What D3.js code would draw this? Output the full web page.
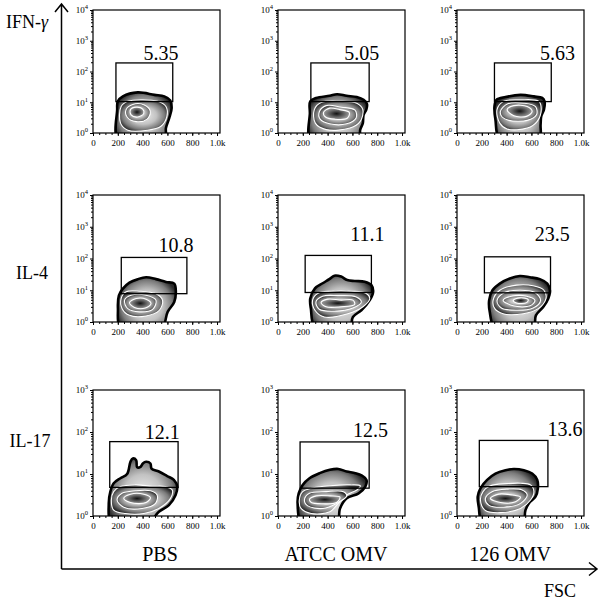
<!DOCTYPE html>
<html>
<head>
<meta charset="utf-8">
<script src="https://cdn.jsdelivr.net/npm/d3@7"></script>
<style>
  body { margin: 0; background: #fff; }
  text { font-family: "Liberation Serif", "Times New Roman", serif; fill: #000; }
</style>
</head>
<body>
<svg id="chart" width="600" height="603"></svg>
<script>
// ---- data ----
var rowLabels = ["IFN-", "IL-4", "IL-17"];
var colLabels = ["PBS", "ATCC OMV", "126 OMV"];
var xTickValues = [0, 200, 400, 600, 800, 1000];
var xTickLabels = ["0", "200", "400", "600", "800", "1.0k"];
var rowDecades = [4, 4, 3];   // y axis goes 10^0 .. 10^n

// % of cells inside the gate, panel order row by row
var gatePercent = [5.35, 5.05, 5.63, 10.8, 11.1, 23.5, 12.1, 12.5, 13.6];
// gate corners: FSC range and intensity range
var gateFsc = [[185, 643], [265, 735], [302, 760], [228, 757], [219, 753], [221, 754], [135, 686], [178, 735], [180, 733]];
var gateIntensity = [[10.5, 190], [10.5, 190], [10.5, 190], [7.8, 108], [8.5, 125], [8.3, 113], [4.8, 59], [4.6, 58], [5.0, 63]];

// contour levels: [FSC, log10 intensity], outer level first
var ifnPbs = [
  [[206,-0.25],[195,0.76],[200,1.03],[241,1.19],[361,1.32],[495,1.24],[575,1.19],[623,1.06],[634,0.81],[615,0.49],[588,0.16],[580,-0.25]],
  [[227,0.86],[281,1.03],[388,1.08],[521,1.03],[588,0.86],[596,0.54],[548,0.22],[441,0.09],[281,0.09],[222,0.32]],
  [[267,0.76],[321,0.93],[414,0.91],[462,0.70],[436,0.45],[348,0.37],[275,0.52]],
  [[302,0.76],[348,0.84],[401,0.78],[409,0.63],[361,0.52],[307,0.59]]
];
var ifnAtcc = [
  [[266,-0.25],[257,0.65],[260,1.03],[307,1.14],[416,1.21],[476,1.26],[553,1.21],[635,1.17],[690,1.08],[717,0.95],[712,0.76],[690,0.59],[684,0.32],[663,0.11],[649,-0.25]],
  [[293,0.76],[348,0.99],[498,1.03],[635,0.97],[684,0.76],[663,0.38],[580,0.16],[389,0.11],[301,0.32]],
  [[334,0.70],[389,0.89],[512,0.84],[621,0.74],[630,0.49],[553,0.30],[416,0.30],[340,0.45]],
  [[367,0.67],[416,0.81],[498,0.76],[575,0.67],[558,0.48],[457,0.45],[383,0.52]]
];
var ifn126 = [
  [[350,-0.25],[310,0.43],[302,0.86],[318,1.08],[391,1.17],[512,1.24],[620,1.19],[687,1.14],[706,1.03],[701,0.76],[679,0.54],[674,0.27],[660,-0.25]],
  [[323,0.76],[377,1.03],[512,1.08],[660,1.03],[679,0.76],[647,0.38],[566,0.16],[404,0.13],[345,0.32]],
  [[350,0.70],[410,0.95],[539,0.97],[633,0.86],[641,0.59],[566,0.41],[418,0.41],[364,0.52]],
  [[404,0.76],[458,0.89],[566,0.86],[606,0.70],[560,0.54],[458,0.56]]
];
var il4Pbs = [
  [[227,-0.25],[201,0.42],[209,0.84],[241,1.05],[294,1.24],[361,1.35],[428,1.41],[508,1.35],[588,1.26],[655,1.21],[668,0.95],[655,0.63],[602,0.32],[548,-0.25]],
  [[227,0.74],[267,0.95],[374,0.97],[508,0.89],[561,0.68],[535,0.37],[428,0.19],[294,0.21],[235,0.42]],
  [[254,0.68],[307,0.84],[428,0.84],[508,0.68],[481,0.40],[374,0.32],[281,0.42]],
  [[294,0.61],[348,0.74],[428,0.72],[468,0.58],[422,0.44],[334,0.46]]
];
var il4Atcc = [
  [[306,-0.25],[265,0.42],[260,0.74],[298,1.06],[360,1.22],[414,1.35],[455,1.46],[509,1.43],[558,1.32],[618,1.29],[699,1.27],[753,1.16],[767,0.95],[740,0.69],[672,0.37],[604,0.16],[577,-0.25]],
  [[279,0.69],[320,0.90],[428,0.97],[591,0.97],[712,0.90],[740,0.74],[685,0.48],[563,0.26],[374,0.16],[298,0.37]],
  [[306,0.63],[360,0.81],[482,0.83],[631,0.79],[672,0.63],[604,0.44],[455,0.34],[333,0.40]],
  [[347,0.61],[401,0.72],[509,0.69],[604,0.69],[618,0.55],[509,0.48],[387,0.48]]
];
var il4126 = [
  [[313,-0.25],[264,0.32],[259,0.68],[286,1.0],[345,1.21],[426,1.37],[507,1.45],[587,1.41],[668,1.35],[728,1.21],[749,1.0],[736,0.74],[695,0.47],[636,0.21],[614,-0.25]],
  [[291,0.68],[345,1.0],[480,1.16],[614,1.14],[701,1.0],[717,0.74],[655,0.42],[534,0.26],[372,0.26],[305,0.42]],
  [[323,0.68],[385,0.93],[507,1.0],[628,0.93],[674,0.68],[614,0.44],[480,0.37],[358,0.44]],
  [[372,0.68],[439,0.81],[561,0.81],[628,0.68],[588,0.51],[453,0.51]],
  [[453,0.68],[507,0.76],[574,0.71],[561,0.61],[480,0.60]]
];
var il17Pbs = [
  [[154,-0.25],[127,0.30],[140,0.58],[167,0.78],[221,0.90],[275,1.0],[302,1.29],[321,1.37],[348,1.33],[356,1.16],[383,1.17],[402,1.25],[428,1.29],[463,1.25],[472,1.13],[531,1.06],[598,0.95],[652,0.86],[679,0.70],[666,0.50],[612,0.26],[531,0.10],[423,-0.25]],
  [[148,0.38],[167,0.58],[221,0.70],[342,0.74],[477,0.71],[585,0.70],[639,0.62],[625,0.42],[531,0.18],[410,0.06],[261,0.06],[167,0.14]],
  [[194,0.38],[234,0.54],[342,0.60],[463,0.60],[517,0.50],[504,0.30],[396,0.18],[248,0.21]],
  [[248,0.42],[302,0.52],[410,0.52],[463,0.44],[428,0.32],[302,0.32]]
];
var il17Atcc = [
  [[199,-0.25],[158,0.30],[167,0.54],[199,0.74],[254,0.90],[336,1.02],[418,1.10],[486,1.12],[554,1.06],[623,1.02],[677,0.96],[713,0.86],[704,0.70],[650,0.54],[554,0.42],[500,0.18],[472,-0.25]],
  [[172,0.38],[199,0.58],[268,0.66],[418,0.72],[582,0.74],[664,0.72],[636,0.62],[554,0.50],[486,0.30],[418,0.10],[268,0.06],[186,0.18]],
  [[213,0.38],[254,0.54],[390,0.58],[527,0.58],[554,0.48],[472,0.30],[363,0.18],[240,0.24]],
  [[254,0.40],[309,0.48],[418,0.48],[500,0.45],[472,0.32],[363,0.29],[268,0.32]]
];
var il17126 = [
  [[216,-0.25],[175,0.22],[167,0.46],[189,0.66],[243,0.86],[310,1.01],[391,1.09],[458,1.12],[539,1.09],[606,1.01],[647,0.86],[652,0.66],[633,0.46],[579,0.30],[552,0.14],[525,-0.25]],
  [[189,0.38],[210,0.58],[269,0.72],[404,0.77],[512,0.78],[593,0.74],[620,0.58],[593,0.38],[512,0.18],[350,0.08],[229,0.13]],
  [[229,0.42],[283,0.58],[404,0.64],[525,0.62],[566,0.50],[512,0.30],[377,0.21],[256,0.26]],
  [[269,0.42],[337,0.52],[445,0.50],[512,0.45],[472,0.34],[350,0.32]]
];
var panelContours = [ifnPbs, ifnAtcc, ifn126, il4Pbs, il4Atcc, il4126, il17Pbs, il17Atcc, il17126];

// ---- layout ----
var colLeft = [93, 278, 457], plotW = 127;
var rowTop = [10, 195, 390], rowBottom = [133, 322, 516];
// where the % text sits, in data units of each panel (FSC, intensity)
var labelAt = [[548, 240], [675, 240], [811, 240], [669, 165], [721, 355], [768, 355], [558, 67], [745, 77], [870, 80]];

var svg = d3.select("#chart");
var defs = svg.append("defs");

var zebra = defs.append("radialGradient").attr("id", "zebra").attr("r", "55%");
zebra.append("stop").attr("offset", "0%").attr("stop-color", "#f0f0f0");
zebra.append("stop").attr("offset", "50%").attr("stop-color", "#c2c2c2");
zebra.append("stop").attr("offset", "80%").attr("stop-color", "#7c7c7c");
zebra.append("stop").attr("offset", "100%").attr("stop-color", "#2a2a2a");

var core = defs.append("radialGradient").attr("id", "core").attr("r", "55%");
core.append("stop").attr("offset", "0%").attr("stop-color", "#111");
core.append("stop").attr("offset", "50%").attr("stop-color", "#606060");
core.append("stop").attr("offset", "100%").attr("stop-color", "#a8a8a8");

panelContours.forEach(function(levels, i) {
  var r = Math.floor(i / 3), c = i % 3;
  var x = d3.scaleLinear().domain([0, 1024]).range([colLeft[c], colLeft[c] + plotW]);
  var y = d3.scaleLog().domain([1, Math.pow(10, rowDecades[r])]).range([rowBottom[r], rowTop[r]]);
  var g = svg.append("g");

  defs.append("clipPath").attr("id", "clip" + i)
    .append("rect")
    .attr("x", x(0)).attr("y", y.range()[1])
    .attr("width", plotW).attr("height", rowBottom[r] - rowTop[r]);

  var contour = d3.line()
    .x(function(d) { return x(d[0]); })
    .y(function(d) { return y(Math.pow(10, d[1])); })
    .curve(d3.curveCatmullRomClosed.alpha(0.5));

  var blob = g.append("g").attr("clip-path", "url(#clip" + i + ")");
  blob.selectAll("path")
    .data(levels)
    .enter().append("path")
    .attr("d", contour)
    .attr("fill", function(d, k) { return k === levels.length - 1 ? "url(#core)" : "url(#zebra)"; })
    .attr("stroke", function(d, k) { return k === 0 ? "#000" : "#fff"; })
    .attr("stroke-width", function(d, k) { return k === 0 ? 2.6 : 1.1; })
    .attr("stroke-linejoin", "round");

  // gate
  g.append("rect")
    .attr("x", x(gateFsc[i][0]))
    .attr("y", y(gateIntensity[i][1]))
    .attr("width", x(gateFsc[i][1]) - x(gateFsc[i][0]))
    .attr("height", y(gateIntensity[i][0]) - y(gateIntensity[i][1]))
    .attr("fill", "none").attr("stroke", "#000").attr("stroke-width", 1.3);

  g.append("text")
    .attr("x", x(labelAt[i][0]))
    .attr("y", y(labelAt[i][1]))
    .attr("text-anchor", "middle")
    .style("font-size", "20px")
    .text(gatePercent[i]);

  // axes
  var xMinor = g.append("g")
    .attr("transform", "translate(0," + rowBottom[r] + ")")
    .call(d3.axisBottom(x).tickValues(d3.range(0, 1024, 50)).tickSize(2).tickFormat(""));
  xMinor.select(".domain").remove();

  var xAxis = g.append("g")
    .attr("transform", "translate(0," + rowBottom[r] + ")")
    .call(d3.axisBottom(x).tickValues(xTickValues).tickSize(3).tickPadding(4)
      .tickFormat(function(d, k) { return xTickLabels[k]; }));
  xAxis.select(".domain").remove();
  xAxis.selectAll("text").style("font-size", "9px").style("font-family", "'Liberation Serif', serif");

  var minorY = [];
  for (var e = 0; e < rowDecades[r]; e++) {
    for (var m = 2; m < 10; m++) minorY.push(m * Math.pow(10, e));
  }
  var yMinor = g.append("g")
    .attr("transform", "translate(" + x(0) + ",0)")
    .call(d3.axisLeft(y).tickValues(minorY).tickSize(2).tickFormat(""));
  yMinor.select(".domain").remove();

  var decades = d3.range(rowDecades[r] + 1).map(function(e) { return Math.pow(10, e); });
  var yAxis = g.append("g")
    .attr("transform", "translate(" + x(0) + ",0)")
    .call(d3.axisLeft(y).tickValues(decades).tickSize(3).tickPadding(2).tickFormat(""));
  yAxis.select(".domain").remove();
  yAxis.selectAll(".tick text").each(function(d) {
    var t = d3.select(this).style("font-size", "9px").style("font-family", "'Liberation Serif', serif");
    t.append("tspan").text("10");
    t.append("tspan").attr("dy", "-4").style("font-size", "6.5px").text(Math.round(Math.log10(d)));
  });

  g.selectAll(".tick line").attr("stroke", "#000");

  g.append("rect")
    .attr("x", x(0)).attr("y", rowTop[r])
    .attr("width", plotW).attr("height", rowBottom[r] - rowTop[r])
    .attr("fill", "none").attr("stroke", "#000").attr("stroke-width", 1.2);
});

// big arrows
var ax0 = 61.5, ay0 = 569;
svg.append("path")
  .attr("d", "M" + ax0 + "," + ay0 + "V4 M" + (ax0 - 6.5) + ",12 L" + ax0 + ",4 L" + (ax0 + 6.5) + ",12")
  .attr("fill", "none").attr("stroke", "#000").attr("stroke-width", 1.5);
svg.append("path")
  .attr("d", "M" + ax0 + "," + ay0 + "H597 M589," + (ay0 - 6.5) + " L597," + ay0 + " L589," + (ay0 + 6.5))
  .attr("fill", "none").attr("stroke", "#000").attr("stroke-width", 1.5);

var rowLabelPos = [[27, 28], [32, 279], [30, 447]];
var rowLabel = svg.selectAll(".rowLabel")
  .data(rowLabels)
  .enter().append("text")
  .attr("class", "rowLabel")
  .attr("x", function(d, k) { return rowLabelPos[k][0]; })
  .attr("y", function(d, k) { return rowLabelPos[k][1]; })
  .attr("text-anchor", "middle")
  .style("font-size", "18px")
  .text(function(d) { return d; });
// the greek letter is set in italics
rowLabel.filter(function(d, k) { return k === 0; })
  .append("tspan").style("font-style", "italic").text("\u03b3");

var colLabelX = [160, 336, 510];
svg.selectAll(".colLabel")
  .data(colLabels)
  .enter().append("text")
  .attr("class", "colLabel")
  .attr("x", function(d, k) { return colLabelX[k]; })
  .attr("y", 561)
  .attr("text-anchor", "middle")
  .style("font-size", "20px")
  .text(function(d) { return d; });

svg.append("text")
  .attr("x", 560).attr("y", 597)
  .attr("text-anchor", "middle")
  .style("font-size", "18px")
  .text("FSC");
</script>
</body>
</html>
